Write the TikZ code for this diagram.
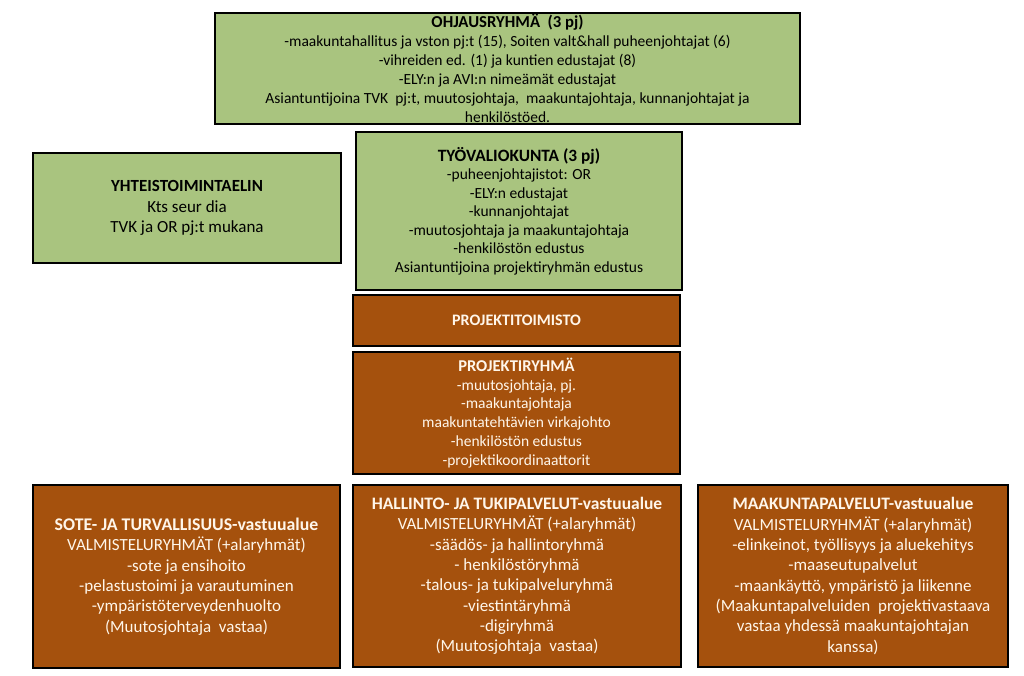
\documentclass[tikz,border=0pt]{standalone}
\usepackage{fontspec}
\setmainfont{Carlito}
\definecolor{boxgreen}{HTML}{A9C47F}
\definecolor{boxbrown}{HTML}{A5510D}
\definecolor{lighttext}{HTML}{FFF6EA}
\newcommand{\ttl}[2]{{\fontsize{#1}{19}\selectfont\bfseries #2}}
\tikzset{
  base/.style={draw=black, line width=1.6pt, align=center, inner sep=0pt, anchor=center},
  greenbox/.style={base, fill=boxgreen, text=black, font=\fontsize{15.5}{19}\selectfont},
  brownbox/.style={base, fill=boxbrown, text=lighttext, font=\fontsize{15.5}{19}\selectfont},
  bottombox/.style={brownbox, font=\fontsize{17}{20.3}\selectfont},
}
\begin{document}
\begin{tikzpicture}[x=1pt,y=-1pt]
\useasboundingbox (0,0) rectangle (1024,676);
\node[greenbox, minimum width=585pt, minimum height=111pt] (ohj) at (507.5,68.5)
 {\ttl{16.7}{OHJAUSRYHMÄ\ \ (3 pj)}\\
  -maakuntahallitus ja vston pj:t (15), Soiten valt\&hall puheenjohtajat (6)\\
  -vihreiden ed. (1) ja kuntien edustajat (8)\\
  -ELY:n ja AVI:n nimeämät edustajat\\
  Asiantuntijoina TVK\ \ pj:t, muutosjohtaja,\ \ maakuntajohtaja, kunnanjohtajat ja\\
  henkilöstöed.};
\node[greenbox, minimum width=308pt, minimum height=110pt, font=\fontsize{17}{20.5}\selectfont] (yht) at (187,208)
 {\textbf{YHTEISTOIMINTAELIN}\\
  Kts seur dia\\
  TVK ja OR pj:t mukana};
\node[greenbox, minimum width=326pt, minimum height=158pt, font=\fontsize{15.5}{18.5}\selectfont] (tyo) at (519,211)
 {\ttl{17.3}{TYÖVALIOKUNTA (3 pj)}\\
  -puheenjohtajistot: OR\\
  -ELY:n edustajat\\
  -kunnanjohtajat\\
  -muutosjohtaja ja maakuntajohtaja\\
  -henkilöstön edustus\\
  Asiantuntijoina projektiryhmän edustus};
\node[brownbox, minimum width=327pt, minimum height=51pt] (pto) at (516.5,320.5)
 {\ttl{16}{PROJEKTITOIMISTO}};
\node[brownbox, minimum width=327pt, minimum height=122pt, font=\fontsize{15.5}{18.8}\selectfont] (pr) at (516.5,413)
 {\ttl{16.5}{PROJEKTIRYHMÄ}\\
  -muutosjohtaja, pj.\\
  -maakuntajohtaja\\
  maakuntatehtävien virkajohto\\
  -henkilöstön edustus\\
  -projektikoordinaattorit};
\node[bottombox, minimum width=307pt, minimum height=183pt] (sote) at (186.5,576.5)
 {\ttl{17.8}{SOTE- JA TURVALLISUUS-vastuualue}\\
  VALMISTELURYHMÄT (+alaryhmät)\\
  -sote ja ensihoito\\
  -pelastustoimi ja varautuminen\\
  -ympäristöterveydenhuolto\\
  (Muutosjohtaja\ \ vastaa)};
\node[bottombox, minimum width=328pt, minimum height=182pt] (hall) at (517,576)
 {\ttl{17.5}{HALLINTO- JA TUKIPALVELUT-vastuualue}\\
  VALMISTELURYHMÄT (+alaryhmät)\\
  -säädös- ja hallintoryhmä\\
  - henkilöstöryhmä\\
  -talous- ja tukipalveluryhmä\\
  -viestintäryhmä\\
  -digiryhmä\\
  (Muutosjohtaja\ \ vastaa)};
\node[bottombox, minimum width=310pt, minimum height=182pt] (maak) at (853,576)
 {\ttl{17.5}{MAAKUNTAPALVELUT-vastuualue}\\
  VALMISTELURYHMÄT (+alaryhmät)\\
  -elinkeinot, työllisyys ja aluekehitys\\
  -maaseutupalvelut\\
  -maankäyttö, ympäristö ja liikenne\\
  (Maakuntapalveluiden\ \ projektivastaava\\
  vastaa yhdessä maakuntajohtajan\\
  kanssa)};
\end{tikzpicture}
\end{document}
